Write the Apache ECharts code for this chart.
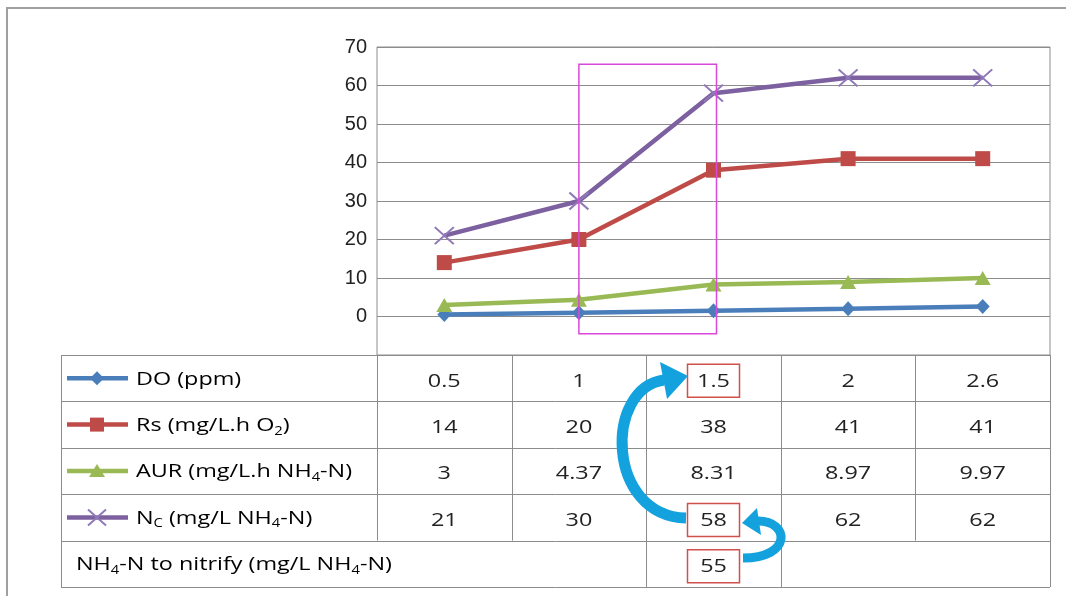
<!DOCTYPE html>
<html>
<head>
<meta charset="utf-8">
<script src="https://cdn.jsdelivr.net/npm/echarts@6/dist/echarts.min.js"></script>
<style>
html,body{margin:0;padding:0;background:#fff;}
#main{width:1066px;height:596px;}
</style>
</head>
<body>
<div id="main"></div>
<script>
// data
var categories = ['0.5', '1', '1.5', '2', '2.6'];
var doValues = [0.5, 1, 1.5, 2, 2.6];
var rsValues = [14, 20, 38, 41, 41];
var aurValues = [3, 4.37, 8.31, 8.97, 9.97];
var ncValues = [21, 30, 58, 62, 62];
var nitrifyValues = [null, null, 55, null, null];
var rowLabels = [
    '{t|DO (ppm)}',
    '{t|Rs (mg/L.h O}{s|2}{t|)}',
    '{t|AUR (mg/L.h NH}{s|4}{t|-N)}',
    '{t|N}{s|C}{t| (mg/L NH}{s|4}{t|-N)}'
];
var nitrifyLabel = '{t|NH}{s|4}{t|-N to nitrify (mg/L NH}{s|4}{t|-N)}';
var colors = ['#4A7EBB', '#BE4B48', '#98B954', '#7D60A0'];

var chart = echarts.init(document.getElementById('main'));

// layout of the plot and of the data table under it
var L = 377, R = 1050, T = 47, B = 355;
var colW = (R - L) / 5;
var rowH = 46.4;
var tabL = 61;
var gridColor = '#8c8c8c';
var textFont = '"Open Sans", Lato, sans-serif';
var fs = 19;
var stretch = 1.23; // the picture is a bit wider than tall, text included

var xPath = 'path://M0,0L10,10M10,0L0,10';
var symbols = ['diamond', 'rect', 'triangle', xPath];
var symbolSizes = [[14, 15], 15, [16, 14], [19, 17]];
var allValues = [doValues, rsValues, aurValues, ncValues];

var rich = {
    t: {fontSize: fs, fontFamily: textFont, color: '#222', lineHeight: 24},
    s: {fontSize: 12, fontFamily: textFont, color: '#222', lineHeight: 12, padding: [11, 0, 0, 0]}
};

var series = allValues.map(function (vals, i) {
    return {
        name: 'S' + i,
        type: 'line',
        data: vals,
        symbol: symbols[i],
        symbolSize: symbolSizes[i],
        showAllSymbol: true,
        lineStyle: {color: colors[i], width: 4.5},
        itemStyle: i === 3
            ? {color: 'none', borderColor: '#8F79B8', borderWidth: 2}
            : {color: colors[i], borderWidth: 0},
        emphasis: {disabled: true},
        z: 2 + i
    };
});

var g = [];
// outer frame
g.push({type: 'rect', shape: {x: 7, y: 8, width: 1200, height: 800},
    style: {fill: 'none', stroke: '#a0a0a0', lineWidth: 2}, silent: true});

// table lines
for (var r = 0; r <= 5; r++) {
    var y = Math.round(B + r * rowH) + 0.5;
    g.push({type: 'line', shape: {x1: tabL, y1: y, x2: R, y2: y},
        style: {stroke: gridColor, lineWidth: 1}});
}
g.push({type: 'line', shape: {x1: tabL + 0.5, y1: B, x2: tabL + 0.5, y2: B + 5 * rowH}, style: {stroke: gridColor, lineWidth: 1}});
g.push({type: 'line', shape: {x1: R + 0.5, y1: B, x2: R + 0.5, y2: B + 5 * rowH}, style: {stroke: gridColor, lineWidth: 1}});
for (var c = 0; c < 5; c++) {
    var xv = Math.round(L + c * colW) + 0.5;
    var full = (c === 2 || c === 3);
    g.push({type: 'line', shape: {x1: xv, y1: B, x2: xv, y2: B + (full ? 5 : 4) * rowH},
        style: {stroke: gridColor, lineWidth: 1}});
}

// row labels with legend swatches
function swatch(i, cx, cy) {
    var col = colors[i];
    g.push({type: 'line', shape: {x1: 67, y1: cy, x2: 128, y2: cy}, style: {stroke: col, lineWidth: 4.5}});
    if (i === 0) {
        g.push({type: 'polygon', shape: {points: [[cx, cy - 7], [cx + 7, cy], [cx, cy + 7], [cx - 7, cy]]}, style: {fill: col}});
    } else if (i === 1) {
        g.push({type: 'rect', shape: {x: cx - 7, y: cy - 7, width: 14, height: 14}, style: {fill: col}});
    } else if (i === 2) {
        g.push({type: 'polygon', shape: {points: [[cx, cy - 7], [cx + 8, cy + 6], [cx - 8, cy + 6]]}, style: {fill: col}});
    } else {
        g.push({type: 'line', shape: {x1: cx - 9, y1: cy - 8, x2: cx + 9, y2: cy + 8}, style: {stroke: '#8F79B8', lineWidth: 2}});
        g.push({type: 'line', shape: {x1: cx + 9, y1: cy - 8, x2: cx - 9, y2: cy + 8}, style: {stroke: '#8F79B8', lineWidth: 2}});
    }
}
function cellText(x, y, txt) {
    g.push({type: 'text', x: x, y: y, scaleX: stretch,
        style: {text: txt, font: fs + 'px ' + textFont, fill: '#222', align: 'center', verticalAlign: 'middle'}});
}
for (var i = 0; i < 4; i++) {
    var cy = B + (i + 0.5) * rowH;
    swatch(i, 97, cy);
    g.push({type: 'text', x: 136, y: cy + 1, scaleX: stretch,
        style: {text: rowLabels[i], rich: rich, verticalAlign: 'middle', align: 'left'}});
    allValues[i].forEach(function (v, k) {
        cellText(L + (k + 0.5) * colW, cy + 3, String(v));
    });
}
var lastY = B + 4.5 * rowH;
g.push({type: 'text', x: 76, y: lastY + 1, scaleX: stretch,
    style: {text: nitrifyLabel, rich: rich, verticalAlign: 'middle', align: 'left'}});
nitrifyValues.forEach(function (v, k) {
    if (v === null) return;
    cellText(L + (k + 0.5) * colW, lastY + 3, String(v));
});

// red boxes round the highlighted cells
var hx = L + 2.5 * colW;
[0, 3, 4].forEach(function (r) {
    var cy = B + (r + 0.5) * rowH + 2;
    g.push({type: 'rect', shape: {x: hx - 26, y: cy - 16, width: 52, height: 33},
        style: {fill: 'none', stroke: '#D0504C', lineWidth: 1.5}});
});

// blue curved arrows
var arrowBlue = '#14A2DE';
g.push({type: 'bezierCurve', shape: {x1: 686, y1: 518, cpx1: 606, cpy1: 516, cpx2: 604, cpy2: 388, x2: 664, y2: 380},
    style: {stroke: arrowBlue, lineWidth: 11, fill: 'none'}});
g.push({type: 'polygon', shape: {points: [[660, 362], [688, 376], [667, 399]]}, style: {fill: arrowBlue}});
g.push({type: 'bezierCurve', shape: {x1: 743, y1: 558, cpx1: 792, cpy1: 558, cpx2: 790, cpy2: 521, x2: 758, y2: 521},
    style: {stroke: arrowBlue, lineWidth: 9, fill: 'none'}});
g.push({type: 'polygon', shape: {points: [[757, 508], [742, 523], [761, 535]]}, style: {fill: arrowBlue}});

var option = {
    animation: false,
    backgroundColor: '#fff',
    grid: {left: L, right: 1066 - R, top: T, bottom: 596 - B, show: true,
        borderColor: gridColor, borderWidth: 1, backgroundColor: 'transparent'},
    xAxis: {
        type: 'category',
        data: categories,
        boundaryGap: true,
        axisLine: {show: false},
        axisTick: {show: false},
        axisLabel: {show: false},
        splitLine: {show: false}
    },
    yAxis: {
        type: 'value',
        min: -10,
        max: 70,
        interval: 10,
        axisLine: {show: false},
        axisTick: {show: false},
        axisLabel: {
            margin: 10,
            fontSize: 20,
            fontFamily: 'Liberation Sans, Arial, sans-serif',
            color: '#222',
            formatter: function (v) { return v < 0 ? '' : v; }
        },
        splitLine: {lineStyle: {color: gridColor, width: 1}}
    },
    series: series,
    graphic: g
};
chart.setOption(option);

// magenta highlight box round the 1.5 step, placed through the chart scales
var p1 = chart.convertToPixel({gridIndex: 0}, [1, 65.5]);
var p2 = chart.convertToPixel({gridIndex: 0}, [2, -4.5]);
g.push({type: 'rect', shape: {x: p1[0], y: p1[1], width: p2[0] - p1[0] + 3, height: p2[1] - p1[1]},
    style: {fill: 'none', stroke: '#DA48DA', lineWidth: 1.5}, z: 10});
chart.setOption({graphic: g});
</script>
</body>
</html>
